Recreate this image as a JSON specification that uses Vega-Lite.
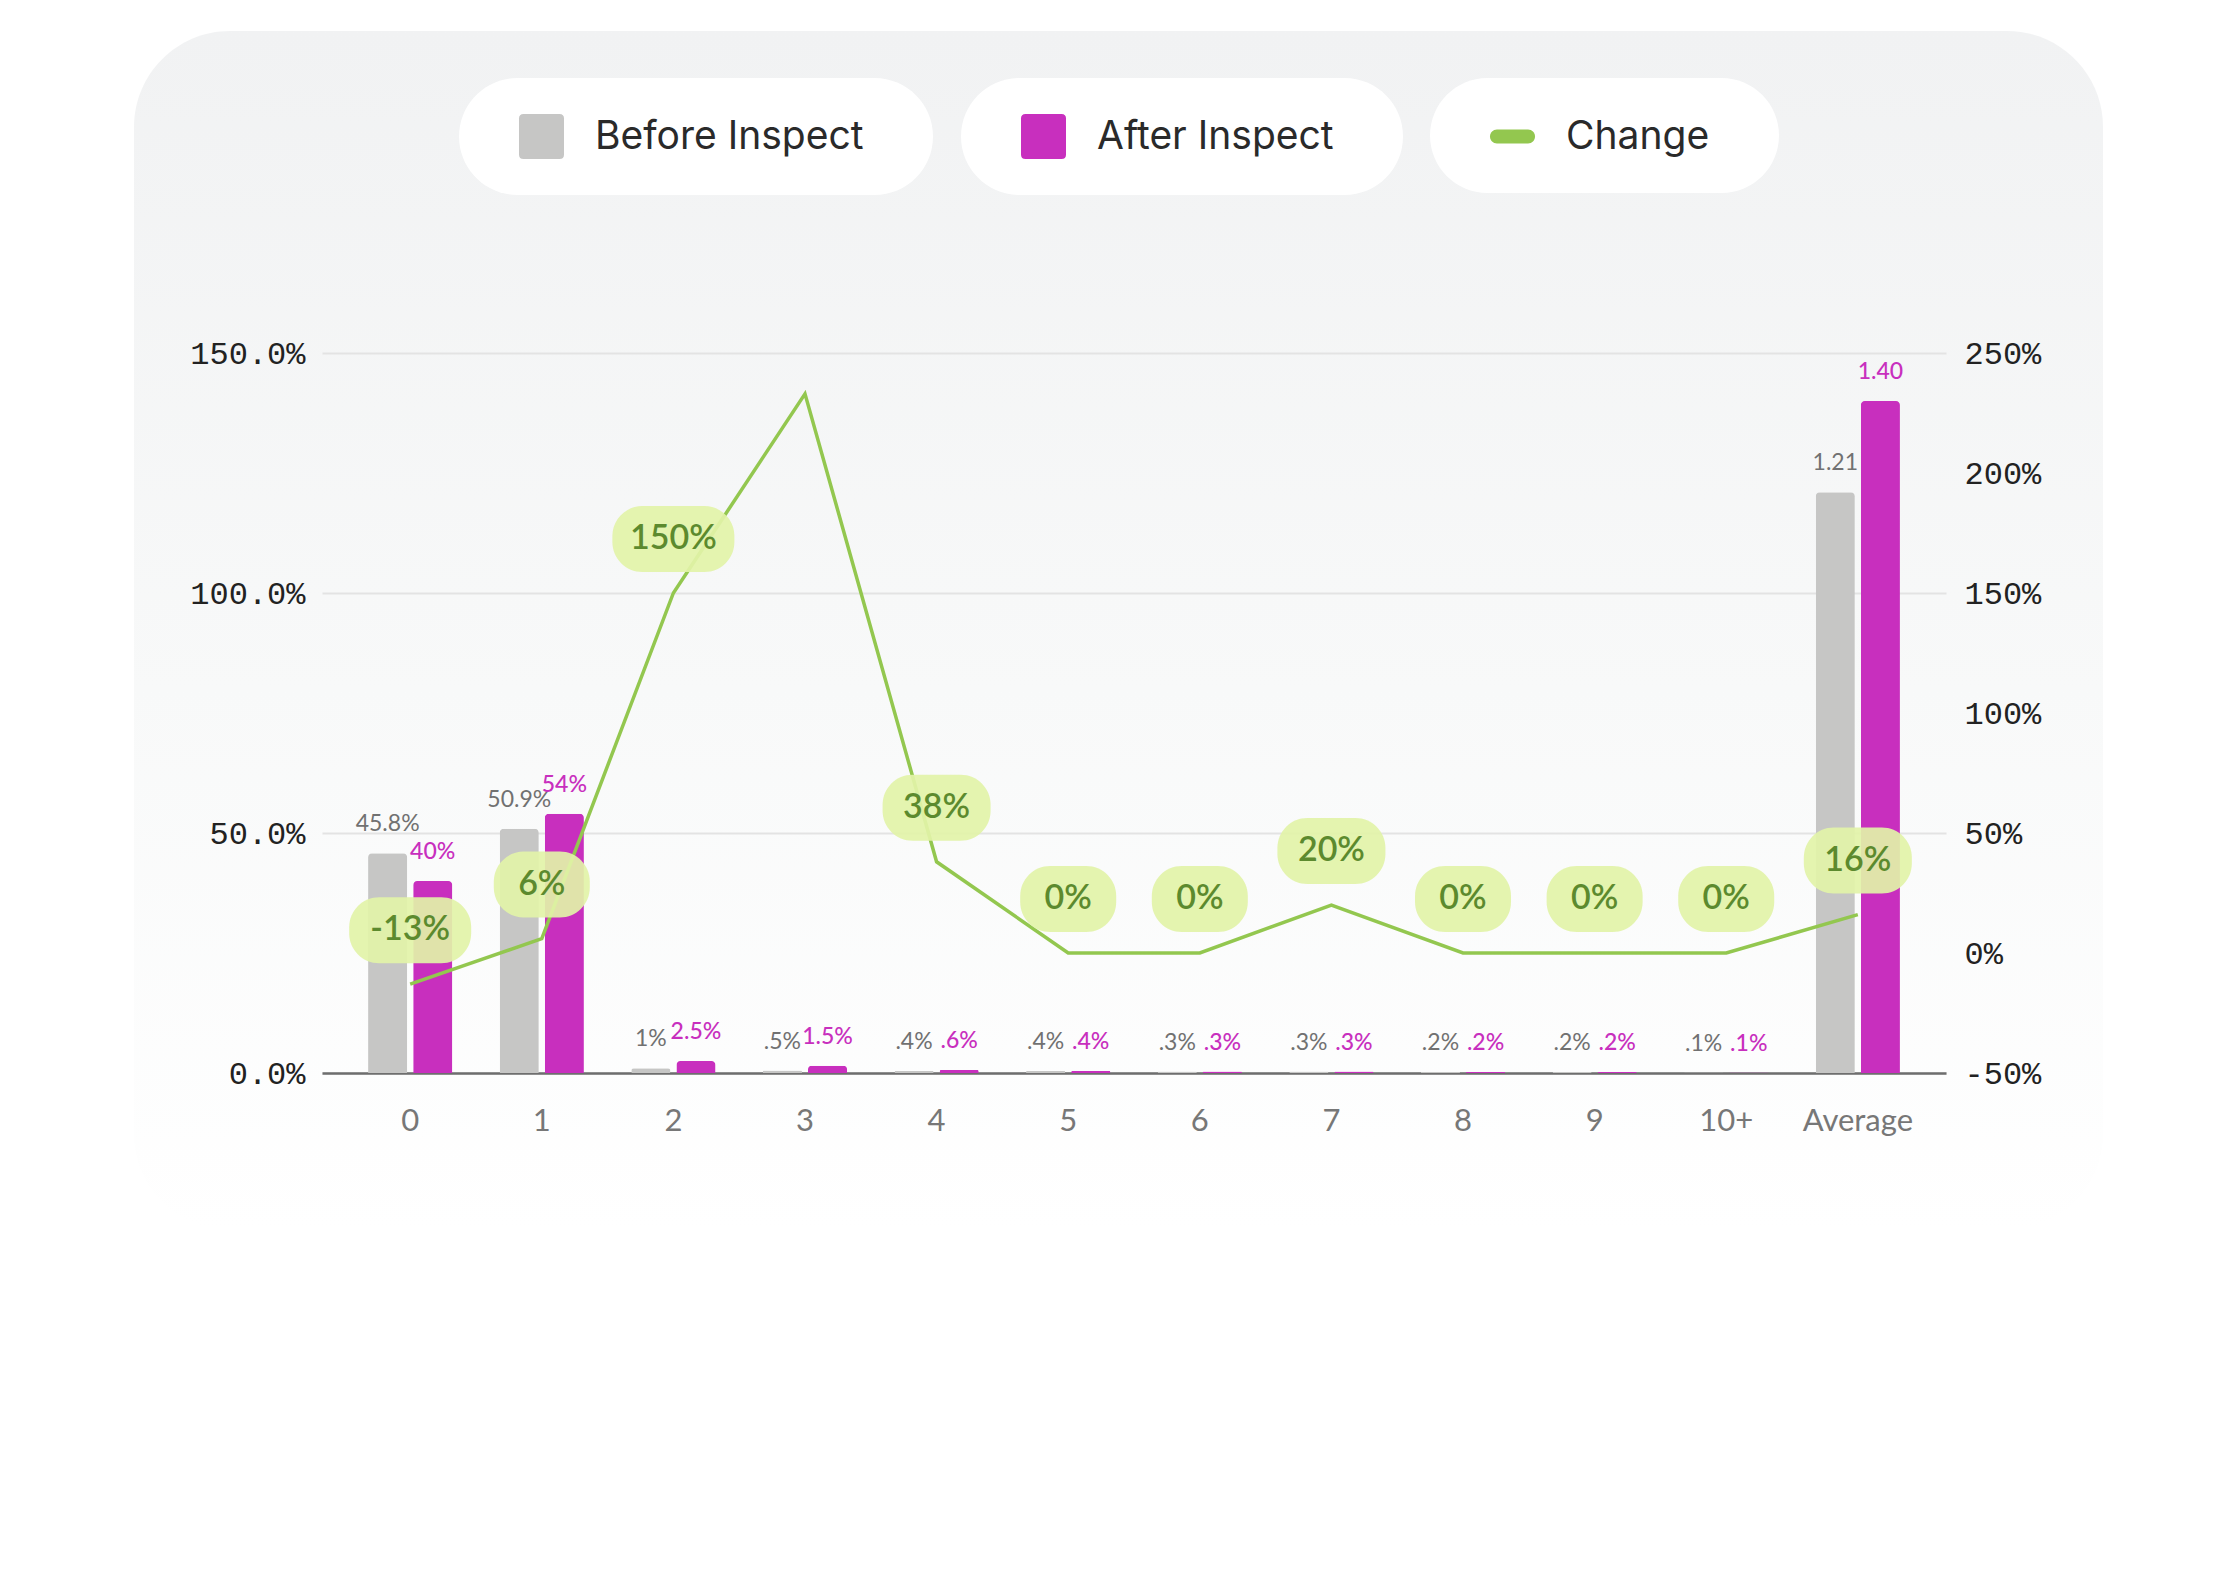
{
  "$schema": "https://vega.github.io/schema/vega-lite/v6.json",
  "description": "Before vs after inspect, with change line on a right axis",
  "width": 1969,
  "height": 1199,
  "autosize": {"type": "none"},
  "padding": {"left": 134, "top": 31, "right": 133, "bottom": 351},
  "background": "#ffffff",
  "view": {
    "cornerRadius": 96,
    "stroke": null,
    "fill": {
      "gradient": "linear", "x1": 0, "y1": 0, "x2": 0, "y2": 1,
      "stops": [
        {"offset": 0, "color": "#f1f2f3"},
        {"offset": 0.55, "color": "#f8f9f9"},
        {"offset": 1, "color": "#ffffff"}
      ]
    }
  },
  "datasets": {
    "bars": [
      {"cat": "0", "series": "Before Inspect", "value": 45.8, "label": "45.8%"},
      {"cat": "1", "series": "Before Inspect", "value": 50.9, "label": "50.9%"},
      {"cat": "2", "series": "Before Inspect", "value": 1, "label": "1%"},
      {"cat": "3", "series": "Before Inspect", "value": 0.5, "label": ".5%"},
      {"cat": "4", "series": "Before Inspect", "value": 0.4, "label": ".4%"},
      {"cat": "5", "series": "Before Inspect", "value": 0.4, "label": ".4%"},
      {"cat": "6", "series": "Before Inspect", "value": 0.3, "label": ".3%"},
      {"cat": "7", "series": "Before Inspect", "value": 0.3, "label": ".3%"},
      {"cat": "8", "series": "Before Inspect", "value": 0.2, "label": ".2%"},
      {"cat": "9", "series": "Before Inspect", "value": 0.2, "label": ".2%"},
      {"cat": "10+", "series": "Before Inspect", "value": 0.1, "label": ".1%"},
      {"cat": "Average", "series": "Before Inspect", "value": 121, "label": "1.21"},
      {"cat": "0", "series": "After Inspect", "value": 40, "label": "40%"},
      {"cat": "1", "series": "After Inspect", "value": 54, "label": "54%"},
      {"cat": "2", "series": "After Inspect", "value": 2.5, "label": "2.5%"},
      {"cat": "3", "series": "After Inspect", "value": 1.5, "label": "1.5%"},
      {"cat": "4", "series": "After Inspect", "value": 0.6, "label": ".6%"},
      {"cat": "5", "series": "After Inspect", "value": 0.4, "label": ".4%"},
      {"cat": "6", "series": "After Inspect", "value": 0.3, "label": ".3%"},
      {"cat": "7", "series": "After Inspect", "value": 0.3, "label": ".3%"},
      {"cat": "8", "series": "After Inspect", "value": 0.2, "label": ".2%"},
      {"cat": "9", "series": "After Inspect", "value": 0.2, "label": ".2%"},
      {"cat": "10+", "series": "After Inspect", "value": 0.1, "label": ".1%"},
      {"cat": "Average", "series": "After Inspect", "value": 140, "label": "1.40"}
    ],
    "change": [
      {"cat": "0", "change": -13, "label": "-13%"},
      {"cat": "1", "change": 6, "label": "6%"},
      {"cat": "2", "change": 150, "label": "150%"},
      {"cat": "3", "change": 233, "label": null},
      {"cat": "4", "change": 38, "label": "38%"},
      {"cat": "5", "change": 0, "label": "0%"},
      {"cat": "6", "change": 0, "label": "0%"},
      {"cat": "7", "change": 20, "label": "20%"},
      {"cat": "8", "change": 0, "label": "0%"},
      {"cat": "9", "change": 0, "label": "0%"},
      {"cat": "10+", "change": 0, "label": "0%"},
      {"cat": "Average", "change": 16, "label": "16%"}
    ]
  },
  "config": {
    "font": "Lato",
    "legend": {
      "fillColor": "#ffffff",
      "cornerRadius": 59,
      "padding": 36,
      "labelFont": "Inter",
      "labelFontSize": 39,
      "labelColor": "#2a2a2a",
      "labelOffset": 31,
      "labelLimit": 0,
      "symbolOffset": 24,
      "symbolSize": 2025,
      "symbolStrokeWidth": 0
    }
  },
  "layer": [
    {
      "data": {"name": "bars"},
      "layer": [
        {
          "transform": [{"filter": "datum.series == 'Before Inspect'"}],
          "mark": {"type": "bar", "cornerRadiusEnd": 4},
          "encoding": {
            "x": {
              "field": "cat", "type": "nominal",
              "scale": {
                "domain": ["0", "1", "2", "3", "4", "5", "6", "7", "8", "9", "10+", "Average"],
                "range": [188, 1812], "paddingInner": 0.36, "paddingOuter": 0.35
              },
              "axis": {
                "orient": "bottom", "offset": -157, "title": null, "labelAngle": 0,
                "domain": true, "domainColor": "#6e6e6e", "domainWidth": 2.5,
                "ticks": false, "grid": false,
                "labelFont": "Lato", "labelFontSize": 31, "labelColor": "#777777", "labelPadding": 33
              }
            },
            "xOffset": {
              "field": "series", "type": "nominal",
              "scale": {"domain": ["Before Inspect", "After Inspect"], "paddingInner": 0.133, "paddingOuter": 0}
            },
            "y": {
              "field": "value", "type": "quantitative",
              "scale": {"domain": [0, 150], "range": [1042, 322], "nice": false},
              "axis": {
                "orient": "left", "offset": -188, "title": null,
                "domain": false, "ticks": false,
                "grid": true, "gridColor": "#e3e3e3", "gridWidth": 2,
                "values": [0, 50, 100, 150],
                "labelExpr": "format(datum.value, '.1f') + '%'",
                "labelFont": "Liberation Mono", "labelFontSize": 32, "labelColor": "#222222", "labelPadding": 17
              }
            },
            "fill": {
              "field": "series", "type": "nominal",
              "scale": {"range": ["#c6c6c5"]},
              "legend": {
                "orient": "none", "legendX": 325, "legendY": 47, "title": null,
                "symbolType": "M-0.8,-1H0.8Q1,-1 1,-0.8V0.8Q1,1 0.8,1H-0.8Q-1,1 -1,0.8V-0.8Q-1,-1 -0.8,-1Z",
                "labelExpr": "datum.label + '\u00a0\u00a0\u00a0\u200b'"
              }
            }
          }
        },
        {
          "transform": [{"filter": "datum.series == 'Before Inspect'"}],
          "mark": {"type": "text", "baseline": "middle", "dy": -29, "fontSize": 23, "color": "#717171"},
          "encoding": {
            "x": {"field": "cat", "type": "nominal"},
            "xOffset": {"field": "series", "type": "nominal"},
            "y": {"field": "value", "type": "quantitative"},
            "text": {"field": "label"}
          }
        },
        {
          "transform": [{"filter": "datum.series == 'After Inspect'"}],
          "mark": {"type": "bar", "cornerRadiusEnd": 4},
          "encoding": {
            "x": {"field": "cat", "type": "nominal"},
            "xOffset": {"field": "series", "type": "nominal"},
            "y": {"field": "value", "type": "quantitative"},
            "fill": {
              "field": "series", "type": "nominal",
              "scale": {"range": ["#c82fbe"]},
              "legend": {
                "orient": "none", "legendX": 827, "legendY": 47, "title": null,
                "symbolType": "M-0.8,-1H0.8Q1,-1 1,-0.8V0.8Q1,1 0.8,1H-0.8Q-1,1 -1,0.8V-0.8Q-1,-1 -0.8,-1Z",
                "labelExpr": "datum.label + '\u00a0\u00a0\u00a0\u200b'"
              }
            }
          }
        },
        {
          "transform": [{"filter": "datum.series == 'After Inspect'"}],
          "mark": {"type": "text", "baseline": "middle", "dy": -29, "fontSize": 23, "fontWeight": 500, "color": "#c82fbe"},
          "encoding": {
            "x": {"field": "cat", "type": "nominal"},
            "xOffset": {"field": "series", "type": "nominal"},
            "y": {"field": "value", "type": "quantitative"},
            "text": {"field": "label"}
          }
        }
      ],
      "resolve": {"scale": {"fill": "independent"}}
    },
    {
      "data": {"name": "change"},
      "encoding": {
        "x": {"field": "cat", "type": "nominal"},
        "y": {
          "field": "change", "type": "quantitative",
          "scale": {"domain": [-50, 250], "range": [1042, 322], "nice": false, "zero": false},
          "axis": {
            "orient": "right", "offset": -157, "title": null,
            "domain": false, "ticks": false, "grid": false,
            "values": [-50, 0, 50, 100, 150, 200, 250],
            "labelExpr": "datum.value + '%'",
            "labelFont": "Liberation Mono", "labelFontSize": 32, "labelColor": "#222222", "labelPadding": 18
          }
        }
      },
      "layer": [
        {
          "mark": {"type": "line", "strokeWidth": 3.5},
          "encoding": {
            "stroke": {
              "datum": "Change", "type": "nominal",
              "scale": {"range": ["#93c74f"]},
              "legend": {
                "orient": "none", "legendX": 1296, "legendY": 47, "title": null,
                "symbolType": "M-0.69,-0.31H0.69A0.31,0.31 0 0 1 0.69,0.31H-0.69A0.31,0.31 0 0 1 -0.69,-0.31Z",
                "symbolFillColor": "#93c74f",
                "symbolStrokeColor": "#93c74f",
                "labelExpr": "datum.label + '\u00a0\u00a0\u00a0\u200b'"
              }
            }
          }
        },
        {
          "transform": [{"filter": "isValid(datum.label)"}],
          "mark": {"type": "point", "filled": true, "size": 10000, "yOffset": -54, "color": "#e2f3a8", "opacity": 0.92, "strokeWidth": 0},
          "encoding": {
            "shape": {
              "field": "label", "type": "nominal", "legend": null,
              "scale": {
                "domain": ["0%", "6%", "20%", "38%", "16%", "-13%", "150%"],
                "range": [
                  "M-0.36,-0.66H0.36A0.6,0.6 0 0 1 0.96,-0.06V0.06A0.6,0.6 0 0 1 0.36,0.66H-0.36A0.6,0.6 0 0 1 -0.96,0.06V-0.06A0.6,0.6 0 0 1 -0.36,-0.66Z",
                  "M-0.36,-0.66H0.36A0.6,0.6 0 0 1 0.96,-0.06V0.06A0.6,0.6 0 0 1 0.36,0.66H-0.36A0.6,0.6 0 0 1 -0.96,0.06V-0.06A0.6,0.6 0 0 1 -0.36,-0.66Z",
                  "M-0.48,-0.66H0.48A0.6,0.6 0 0 1 1.08,-0.06V0.06A0.6,0.6 0 0 1 0.48,0.66H-0.48A0.6,0.6 0 0 1 -1.08,0.06V-0.06A0.6,0.6 0 0 1 -0.48,-0.66Z",
                  "M-0.48,-0.66H0.48A0.6,0.6 0 0 1 1.08,-0.06V0.06A0.6,0.6 0 0 1 0.48,0.66H-0.48A0.6,0.6 0 0 1 -1.08,0.06V-0.06A0.6,0.6 0 0 1 -0.48,-0.66Z",
                  "M-0.48,-0.66H0.48A0.6,0.6 0 0 1 1.08,-0.06V0.06A0.6,0.6 0 0 1 0.48,0.66H-0.48A0.6,0.6 0 0 1 -1.08,0.06V-0.06A0.6,0.6 0 0 1 -0.48,-0.66Z",
                  "M-0.62,-0.66H0.62A0.6,0.6 0 0 1 1.22,-0.06V0.06A0.6,0.6 0 0 1 0.62,0.66H-0.62A0.6,0.6 0 0 1 -1.22,0.06V-0.06A0.6,0.6 0 0 1 -0.62,-0.66Z",
                  "M-0.62,-0.66H0.62A0.6,0.6 0 0 1 1.22,-0.06V0.06A0.6,0.6 0 0 1 0.62,0.66H-0.62A0.6,0.6 0 0 1 -1.22,0.06V-0.06A0.6,0.6 0 0 1 -0.62,-0.66Z"
                ]
              }
            }
          }
        },
        {
          "transform": [{"filter": "isValid(datum.label)"}],
          "mark": {"type": "text", "yOffset": -54, "baseline": "middle", "fontSize": 34, "fontWeight": 600, "color": "#5c8a2e"},
          "encoding": {"text": {"field": "label"}}
        }
      ]
    }
  ],
  "resolve": {"scale": {"y": "independent"}}
}
